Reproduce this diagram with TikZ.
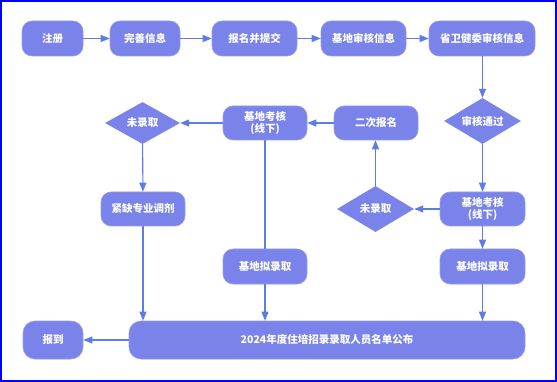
\documentclass[tikz,border=0pt]{standalone}
\usepackage{fontspec}
\setmainfont{Noto Sans CJK SC}
\usetikzlibrary{shapes.geometric,arrows.meta}
\definecolor{boxfill}{HTML}{7A83EA}
\definecolor{linec}{HTML}{5C7DE6}
\tikzset{
  box/.style={draw=boxfill!80!white, line width=0.6pt, fill=boxfill, rounded corners=10pt, text=white, font=\bfseries\fontsize{10.5}{12.5}\selectfont, align=center, minimum height=34pt, inner sep=0pt},
  dia/.style={diamond, aspect=1.8, fill=boxfill, text=white, font=\bfseries\fontsize{10.5}{12.5}\selectfont, inner sep=0pt},
  arr/.style={draw=linec, line width=1.1pt, -{Triangle[length=9pt,width=7pt]}},
  ln/.style={draw=linec, line width=1.1pt},
}
\begin{document}
\begin{tikzpicture}[x=1pt,y=-1pt]
\useasboundingbox (0,0) rectangle (557,382);
\draw[blue, line width=2pt, fill=white] (1,1) rectangle (556,381);
% row 1
\node[box, minimum width=61pt, minimum height=35pt] (zc) at (52.5,38.5) {注册};
\node[box, minimum width=70pt, minimum height=35pt] (ws) at (145,38.5) {完善信息};
\node[box, minimum width=85pt, minimum height=35pt] (bm) at (254.5,38.5) {报名并提交};
\node[box, minimum width=85pt, minimum height=35pt] (jd) at (363.5,38.5) {基地审核信息};
\node[box, minimum width=106pt, minimum height=35pt] (sw) at (482,38.5) {省卫健委审核信息};
% row 2
\node[dia, minimum width=75pt, minimum height=42pt] (wl1) at (142.5,123) {未录取};
\node[box, minimum width=84pt] (kh1) at (265,123) {基地考核\\(线下)};
\node[box, minimum width=84pt] (ec) at (376,123) {二次报名};
\node[dia, minimum width=77pt, minimum height=46pt] (sh) at (482.5,121) {审核通过};
% row 3
\node[box, minimum width=84pt] (jq) at (143,209) {紧缺专业调剂};
\node[dia, minimum width=77pt, minimum height=46pt] (wl2) at (375.5,209) {未录取};
\node[box, minimum width=85pt] (kh2) at (482.5,209) {基地考核\\(线下)};
% row 4
\node[box, minimum width=84pt, minimum height=35pt] (nl1) at (265,266.5) {基地拟录取};
\node[box, minimum width=85pt, minimum height=35pt] (nl2) at (482.5,266.5) {基地拟录取};
% row 5
\node[box, minimum width=60pt, minimum height=38pt, rounded corners=12pt] (bd) at (53,340) {报到};
\node[box, minimum width=396pt, minimum height=38pt, rounded corners=12pt] (gb) at (327,340) {2024年度住培招录录取人员名单公布};
% connectors
\draw[arr] (zc) -- (ws);
\draw[arr] (ws) -- (bm);
\draw[arr] (bm) -- (jd);
\draw[arr] (jd) -- (sw);
\draw[arr] (sw.south -| sh.north) -- (sh.north);
\draw[arr] (sh.south) -- (kh2.north);
\draw[arr] (kh2) -- (wl2);
\draw[arr] (kh2) -- (nl2);
\draw[arr] (nl2.south) -- (nl2.south |- gb.north);
\draw[arr] (wl2.north) -- (ec.south -| wl2.north);
\draw[arr] (ec) -- (kh1);
\draw[arr] (kh1) -- (wl1);
\draw[ln] (kh1) -- (nl1);
\draw[arr] (nl1.south) -- (nl1.south |- gb.north);
\draw[arr] (wl1) -- (jq);
\draw[arr] (jq.south) -- (jq.south |- gb.north);
\draw[arr] (gb) -- (bd);
\end{tikzpicture}
\end{document}
